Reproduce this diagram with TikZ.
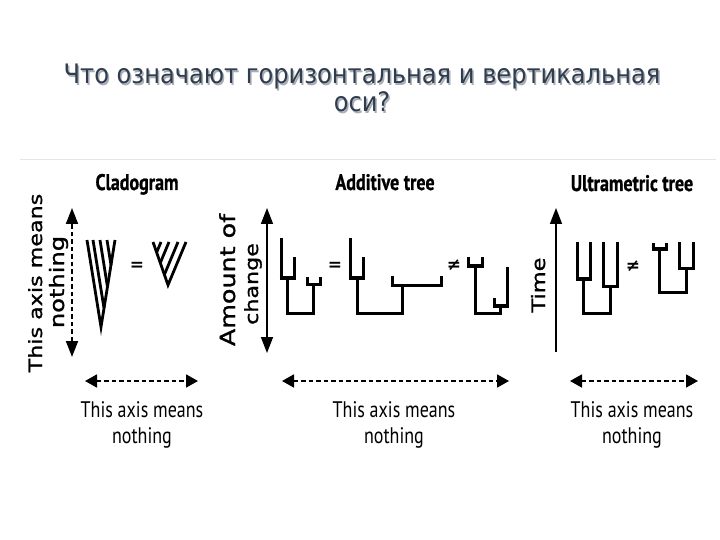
\documentclass[tikz,border=0pt]{standalone}
\usepackage{fontspec}
\setmainfont{DejaVu Sans}
\usetikzlibrary{arrows.meta}
\newfontfamily\titlefont[FakeStretch=0.9]{DejaVu Sans}
\newfontfamily\vfont[FakeStretch=1.22,FakeBold=1.2]{DejaVu Sans}
\newfontfamily\hfont[FakeStretch=0.8]{PT Sans}
\newfontfamily\hbfont[FakeStretch=0.8,FakeBold=0.8]{PT Sans Bold}
\newfontfamily\signfont{DejaVu Sans Bold}
\definecolor{titlecol}{HTML}{2F3D4F}
\definecolor{shadowcol}{HTML}{A9AEB5}
\newcommand{\shadowtext}[1]{\rlap{\hspace{1.5pt}\raisebox{-1.5pt}{\textcolor{shadowcol}{#1}}}\textcolor{titlecol}{#1}}
\begin{document}
\begin{tikzpicture}[x=1pt,y=-1pt,
  tree/.style={line width=3pt, line join=miter},
  joinline/.style={line width=4.6pt},
  clado/.style={line width=2.8pt, line join=miter},
  axisdash/.style={line width=1.8pt, dash pattern=on 4.5pt off 3pt},
  axisline/.style={line width=1.6pt},
  vhead/.tip={Triangle[length=16pt,width=12pt]},
  hhead/.tip={Triangle[length=12pt,width=13pt]},
  ttl/.style={inner sep=0pt, anchor=base, font=\titlefont\fontsize{26.8}{30}\selectfont},
  head/.style={inner sep=0pt, anchor=base, font=\hbfont\fontsize{22.5}{24}\selectfont},
  bottxt/.style={inner sep=0pt, anchor=base, font=\hfont\fontsize{22.5}{24}\selectfont},
  vtxt/.style={inner sep=0pt, anchor=base, rotate=90},
  sign/.style={inner sep=0pt, font=\signfont\fontsize{17}{20}\selectfont}
]
\useasboundingbox (0,0) rectangle (720,540);
\fill[white] (0,0) rectangle (720,540);

% title with shadow
\node[ttl] (t1) at (362,84) {\shadowtext{Что означают горизонтальная и вертикальная}};
\node[ttl] (t2) at (362,112) {\shadowtext{оси?}};

% faint scan border
\draw[black!10, line width=0.8pt] (20,159) -- (716,159);

% headings
\node[head] (hclado) at (137,190) {Cladogram};
\node[head] (hadd) at (385,190) {Additive tree};
\node[head] (hultra) at (632,191) {Ultrametric tree};

% vertical labels
\node[vtxt, font=\vfont\fontsize{18.2}{20}\selectfont] (v1) at (42,283) {This axis means};
\node[vtxt, font=\vfont\fontsize{19.8}{22}\selectfont] (v2) at (64,282) {nothing};
\node[vtxt, font=\vfont\fontsize{20.8}{22}\selectfont] (v3) at (235,280) {Amount of};
\node[vtxt, font=\vfont\fontsize{18.2}{20}\selectfont] (v4) at (258,284) {change};
\node[vtxt, font=\vfont\fontsize{18.4}{20}\selectfont] (v5) at (545,285) {Time};

% vertical axes
\coordinate (c1a) at (72,208);
\coordinate (c1b) at (72,357);
\draw[axisdash, {vhead}-{vhead}] (c1b) -- (c1a);
\coordinate (c2a) at (267,208);
\coordinate (c2b) at (267,353);
\draw[axisline, {vhead}-{vhead}] (c2b) -- (c2a);
\coordinate (c3a) at (556,208);
\coordinate (c3b) at (556,352);
\draw[axisline, -{vhead}] (c3b) -- (c3a);

% horizontal axes
\coordinate (h1a) at (85,381);
\coordinate (h1b) at (198,381);
\draw[axisdash, {hhead}-{hhead}] (h1a) -- (h1b);
\coordinate (h2a) at (282,381);
\coordinate (h2b) at (509,381);
\draw[axisdash, {hhead}-{hhead}] (h2a) -- (h2b);
\coordinate (h3a) at (570,381);
\coordinate (h3b) at (698,381);
\draw[axisdash, {hhead}-{hhead}] (h3a) -- (h3b);

% bottom texts
\node[bottxt] (b1a) at (142,417) {This axis means};
\node[bottxt] (b1b) at (142,443) {nothing};
\node[bottxt] (b2a) at (394,417) {This axis means};
\node[bottxt] (b2b) at (394,443) {nothing};
\node[bottxt] (b3a) at (632,417) {This axis means};
\node[bottxt] (b3b) at (632,443) {nothing};

% cladograms
\draw[clado] (87,240) -- (101,327) -- (115,240);
\draw[clado] (93,240) -- (104,308);
\draw[clado] (100,240) -- (107.5,287);
\draw[clado] (107,240) -- (111,265);
\node[sign] (eq1) at (137,266) {=};
\draw[clado] (153,242) -- (168,285) -- (186,242);
\draw[clado] (161,242) -- (156.6,252.4);
\draw[clado] (169,242) -- (160.3,262.8);
\draw[clado] (178,242) -- (164.4,274.6);

% additive tree 1
\draw[tree] (281,238) |- (294,278) -- (294,257);
\draw[joinline] (279.5,278) -- (295.5,278);
\draw[tree] (287,278) |- (313,313) -- (313,284);
\draw[tree] (307,277) |- (320,284) -- (320,277);
\node[sign] (eq2) at (335,266) {=};
% additive tree 2
\draw[tree] (350,238) |- (363,278) -- (363,257);
\draw[joinline] (348.5,278) -- (364.5,278);
\draw[tree] (357,278) |- (402,313) -- (402,285);
\draw[tree] (392,276) |- (441,285) -- (441,276);
\node[sign] (ne1) at (454,265) {≠};
% additive tree 3
\draw[tree] (468,257) |- (482,266) -- (482,257);
\draw[joinline] (466.5,266) -- (483.5,266);
\draw[tree] (475,266) |- (500,313) -- (500,306);
\draw[tree] (494,298) |- (507,306) -- (507,267);
\draw[joinline] (492.5,306) -- (508.5,306);

% ultrametric tree 1
\draw[tree] (577,242) |- (590,279) -- (590,242);
\draw[joinline] (575.5,279) -- (591.5,279);
\draw[tree] (583,279) |- (610,313) -- (610,286);
\draw[tree] (603,242) |- (617,286) -- (617,242);
\node[sign] (ne2) at (633,266) {≠};
% ultrametric tree 2
\draw[tree] (653,243) |- (666,249) -- (666,243);
\draw[joinline] (651.5,249) -- (667.5,249);
\draw[tree] (659,249) |- (686,292) -- (686,268);
\draw[tree] (679,242) |- (693,268) -- (693,242);
\end{tikzpicture}
\end{document}
